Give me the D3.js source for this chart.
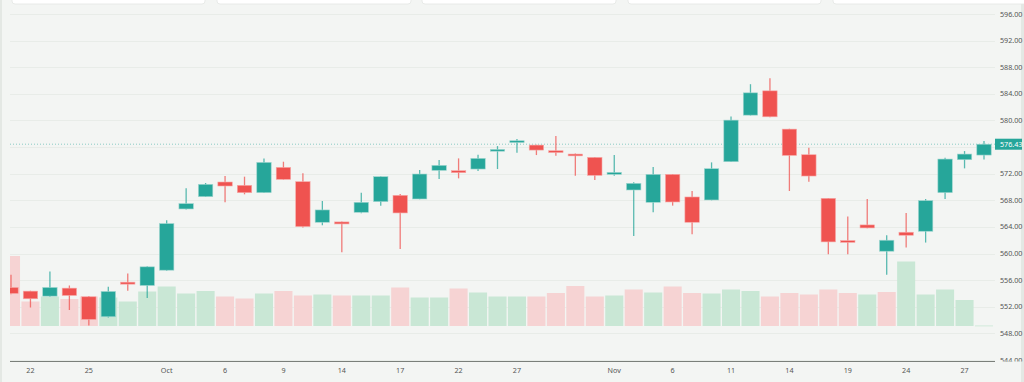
<!DOCTYPE html>
<html><head><meta charset="utf-8">
<script src="https://cdn.jsdelivr.net/npm/d3@7"></script>
<style>
html,body{margin:0;padding:0;background:#f3f5f3;}
svg{display:block;font-family:"Noto Sans",sans-serif;}
</style></head>
<body><svg id="c" width="1024" height="382"></svg>
<script>
const categories = ["Sep 21","Sep 22","Sep 23","Sep 24","Sep 25","Sep 26","Sep 27","Sep 29","Oct 2","Oct 3","Oct 4","Oct 6","Oct 7","Oct 8","Oct 9","Oct 10","Oct 13","Oct 14","Oct 15","Oct 16","Oct 17","Oct 20","Oct 21","Oct 22","Oct 23","Oct 24","Oct 27","Oct 28","Oct 29","Oct 30","Oct 31","Nov 1","Nov 3","Nov 4","Nov 6","Nov 7","Nov 10","Nov 11","Nov 12","Nov 13","Nov 14","Nov 17","Nov 18","Nov 19","Nov 20","Nov 21","Nov 24","Nov 25","Nov 26","Nov 27","Nov 28"];
const open  = [554.9,554.35,553.6,554.8,553.5,550.5,555.7,555.2,557.5,566.7,568.55,570.75,570.25,569.15,572.95,570.8,564.7,564.75,566.2,567.8,568.75,568.2,572.5,572.45,572.7,575.4,576.7,576.3,575.45,574.95,574.45,571.9,569.55,567.7,571.9,568.5,568.05,573.8,580.8,584.45,578.7,574.85,568.3,561.95,564.3,560.35,563.2,563.35,569.15,574.1,574.8];
const high  = [556.8,554.4,557.3,555.2,553.6,555.0,557.0,558.1,565.0,569.8,570.6,571.65,571.55,574.3,573.8,572.05,567.9,564.8,569.15,571.6,568.95,572.55,574.05,574.3,574.85,576.15,577.2,576.35,577.65,575.05,574.5,574.8,570.7,573.0,571.95,569.4,573.7,580.6,585.45,586.35,578.75,575.9,568.35,565.55,568.2,562.75,566.1,568.2,574.4,575.4,576.9];
const low   = [553.9,551.9,553.5,551.5,549.2,550.4,554.4,553.3,557.4,566.6,568.5,567.7,568.9,569.1,571.1,563.9,564.25,560.2,566.05,567.2,560.7,568.15,571.2,571.3,572.4,572.7,575.15,574.8,574.7,571.7,571.05,571.7,562.65,566.2,567.2,562.9,568.0,573.75,580.75,580.5,569.4,570.8,559.9,559.9,563.8,556.8,560.9,561.65,568.2,572.8,574.15];
const close = [554.0,553.2,554.9,553.7,550.1,554.3,555.4,558.0,564.5,567.5,570.4,570.15,569.15,573.7,571.15,564.05,566.55,564.45,567.7,571.55,566.1,571.95,573.25,572.15,574.3,575.65,576.95,575.55,575.3,574.75,571.75,572.2,570.55,571.9,567.75,564.7,572.75,580.05,584.15,580.55,574.75,571.65,561.75,561.7,563.85,562.0,562.75,567.95,574.2,574.95,576.43];
const volume = [14.0,4.9,5.9,5.4,5.9,5.7,4.9,6.9,7.9,6.5,7.0,5.9,5.5,6.5,7.0,6.1,6.3,6.1,6.1,6.1,7.7,5.7,5.7,7.5,6.7,5.9,5.9,5.9,6.6,8.0,5.9,6.1,7.3,6.7,7.9,6.6,6.5,7.3,7.0,5.9,6.6,6.3,7.3,6.6,6.3,6.8,12.9,6.3,7.3,5.2,0.1];
const priceTicks = [544,548,552,556,560,564,568,572,576,580,584,588,592,596];
const tickDates  = ["Sep 22","Sep 25","Oct 2","Oct 6","Oct 9","Oct 14","Oct 17","Oct 22","Oct 27","Nov 1","Nov 6","Nov 11","Nov 14","Nov 19","Nov 24","Nov 27"];
const tickLabels = ["22","25","Oct","6","9","14","17","22","27","Nov","6","11","14","19","24","27"];
const lastPrice = 576.43;

const UP = "#26a69a", DOWN = "#ef5350", VUP = "#c9e7d5", VDOWN = "#f6d3d3";
const svg = d3.select("#c");
const W = 1024, H = 382;
const plotL = 10, plotR = 995, axisY = 361.5;

svg.append("rect").attr("x",0).attr("y",0).attr("width",2).attr("height",H).attr("fill","#e4e8e4");
svg.append("rect").attr("x",1021).attr("y",0).attr("width",3).attr("height",H).attr("fill","#e4e8e4");

const cards = [[12,205],[217,411],[422,616],[628,821],[833,1030]];
cards.forEach(c=>{
  svg.append("rect").attr("x",c[0]).attr("y",-8).attr("width",c[1]-c[0]).attr("height",12)
    .attr("rx",3).attr("fill","#ffffff").attr("stroke","#e3e6e3").attr("stroke-width",0.8);
});

const x = d3.scaleBand().domain(categories).range([1.27, 993.73]).paddingInner(0).paddingOuter(0);
const bw = x.bandwidth();
const cx = d => x(d) + bw/2;
const y = d3.scaleLinear().domain([544, 596]).range([360, 14]);
const vy = d3.scaleLinear().domain([0, d3.max(volume)]).range([326, 256]);

svg.append("g").selectAll("line").data(priceTicks).join("line")
  .attr("x1", plotL).attr("x2", plotR)
  .attr("y1", d=>Math.round(y(d))+0.5).attr("y2", d=>Math.round(y(d))+0.5)
  .attr("stroke","#e8ece8").attr("stroke-width",1);

svg.append("clipPath").attr("id","pc").append("rect")
  .attr("x",plotL).attr("y",0).attr("width",plotR-plotL).attr("height",axisY);
const g = svg.append("g").attr("clip-path","url(#pc)");

g.append("g").selectAll("rect").data(categories).join("rect")
  .attr("x", (d)=>x(d)+0.7).attr("width", bw-1.4)
  .attr("y", (d,i)=>vy(volume[i])).attr("height",(d,i)=>Math.max(0.8, vy(0)-vy(volume[i])))
  .attr("fill",(d,i)=>{
    const up = i===0 ? close[i]>=open[i] : close[i]>=close[i-1];
    return up ? VUP : VDOWN;
  });

g.append("line").attr("x1",plotL).attr("x2",plotR)
  .attr("y1",y(lastPrice)).attr("y2",y(lastPrice))
  .attr("stroke",UP).attr("stroke-opacity",0.5).attr("stroke-width",1).attr("stroke-dasharray","1,2");

g.append("g").selectAll("line").data(categories).join("line")
  .attr("x1",d=>cx(d)).attr("x2",d=>cx(d))
  .attr("y1",(d,i)=>y(high[i])).attr("y2",(d,i)=>y(low[i]))
  .attr("stroke",(d,i)=>close[i]>=open[i]?UP:DOWN).attr("stroke-opacity",0.75).attr("stroke-width",1.3);

const bodyW = 14.4;
g.append("g").selectAll("rect").data(categories).join("rect")
  .attr("x",d=>cx(d)-bodyW/2).attr("width",bodyW)
  .attr("y",(d,i)=>y(Math.max(open[i],close[i])))
  .attr("height",(d,i)=>Math.max(1.8, Math.abs(y(open[i])-y(close[i]))))
  .attr("fill",(d,i)=>close[i]>=open[i]?UP:DOWN)
  .attr("stroke",(d,i)=>close[i]>=open[i]?"#9fd6cf":"#f7a9a7").attr("stroke-width",0.6);

svg.append("line").attr("x1",plotL).attr("x2",plotR).attr("y1",axisY).attr("y2",axisY)
  .attr("stroke","#7a7f7a").attr("stroke-width",1);

svg.append("g").selectAll("text").data(tickDates).join("text")
  .attr("x",d=>cx(d)).attr("y",372.5).attr("text-anchor","middle")
  .attr("font-size",7.2).attr("fill","#555").text((d,i)=>tickLabels[i]);

// right price labels; the one hidden behind the last-price badge is not drawn
svg.append("clipPath").attr("id","yc").append("rect")
  .attr("x",995).attr("y",0).attr("width",30).attr("height",361.5);
svg.append("g").attr("clip-path","url(#yc)").selectAll("text")
  .data(priceTicks.filter(d=>Math.abs(y(d)-y(lastPrice))>9)).join("text")
  .attr("x",1000).attr("y",d=>y(d)+2.5).attr("font-size",7.2).attr("fill","#555")
  .text(d=>d.toFixed(2));

svg.append("rect").attr("x",995).attr("y",y(lastPrice)-5.5).attr("width",27).attr("height",11).attr("fill",UP);
svg.append("text").attr("x",1000).attr("y",y(lastPrice)+2.6).attr("font-size",7.2).attr("fill","#fff")
  .text(lastPrice.toFixed(2));
</script></body></html>
